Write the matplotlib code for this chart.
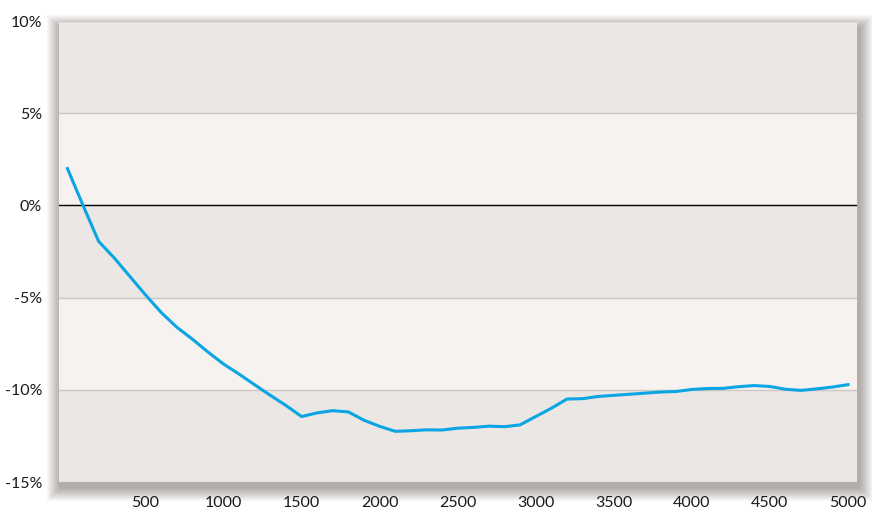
import matplotlib
matplotlib.use("Agg")
import matplotlib.pyplot as plt
from matplotlib.patches import Rectangle

# Data
x_vals = list(range(0, 5001, 100))
y_vals = [2.0, 0.0, -1.95, -2.85, -3.85, -4.85, -5.8, -6.6, -7.25, -7.95,
          -8.6, -9.15, -9.73, -10.3, -10.85, -11.45, -11.25, -11.13, -11.2, -11.65,
          -11.98, -12.25, -12.22, -12.17, -12.18, -12.08, -12.04, -11.97, -12.0, -11.9,
          -11.45, -11.0, -10.5, -10.48, -10.36, -10.3, -10.24, -10.18, -10.12, -10.09,
          -9.98, -9.93, -9.92, -9.83, -9.77, -9.82, -9.97, -10.03, -9.95, -9.85,
          -9.72]
x_ticks = [500, 1000, 1500, 2000, 2500, 3000, 3500, 4000, 4500, 5000]
y_ticks = [-15, -10, -5, 0, 5, 10]
y_tick_labels = ["-15%", "-10%", "-5%", "0%", "5%", "10%"]

dark_band = "#ebe7e4"
light_band = "#f5f2ef"
grid_col = "#cdc6c1"
line_col = "#0aa5e2"

plt.rcParams['font.family'] = ['Lato', 'DejaVu Sans']

W, H = 872, 513
fig = plt.figure(figsize=(W / 100, H / 100), dpi=100)
fig.patch.set_facecolor("white")
l, b, w, h = 0.0673, 0.0604, 0.9155, 0.8986

# soft drop shadow (pixels converted to figure fraction)
px_x, px_y = 1.0 / W, 1.0 / H
dx, dy = 2, -5
n = 14
for r in range(n, 0, -1):
    fig.patches.append(Rectangle((l + (dx - r) * px_x, b + (dy - r) * px_y),
                                 w + 2 * r * px_x, h + (2 * r - 3) * px_y,
                                 transform=fig.transFigure, facecolor="#3a2a20",
                                 alpha=0.03, edgecolor="none", zorder=0))

ax = fig.add_axes([l, b, w, h])
ax.set_zorder(2)
ax.set_xlim(-56, 5058)
ax.set_ylim(-15, 10)

bands = [(-15, -10, dark_band), (-10, -5, light_band), (-5, 0, dark_band),
         (0, 5, light_band), (5, 10, dark_band)]
for y0, y1, c in bands:
    ax.axhspan(y0, y1, color=c, zorder=0, lw=0)

for yt in y_ticks:
    if yt == 0:
        ax.axhline(0, color="black", lw=1.0, zorder=1)
    else:
        ax.axhline(yt, color=grid_col, lw=1.0, zorder=1)

ax.plot(x_vals, y_vals, color=line_col, lw=2.2, zorder=3, solid_joinstyle="round")

for s in ax.spines.values():
    s.set_visible(False)
ax.set_xticks(x_ticks)
ax.set_xticklabels([str(v) for v in x_ticks])
ax.set_yticks(y_ticks)
ax.set_yticklabels(y_tick_labels)
ax.tick_params(axis="both", length=0, labelsize=11.5, colors="#1a1a1a")
ax.tick_params(axis="x", pad=10)
ax.tick_params(axis="y", pad=12)

fig.savefig("out.png", dpi=100, facecolor="white")
